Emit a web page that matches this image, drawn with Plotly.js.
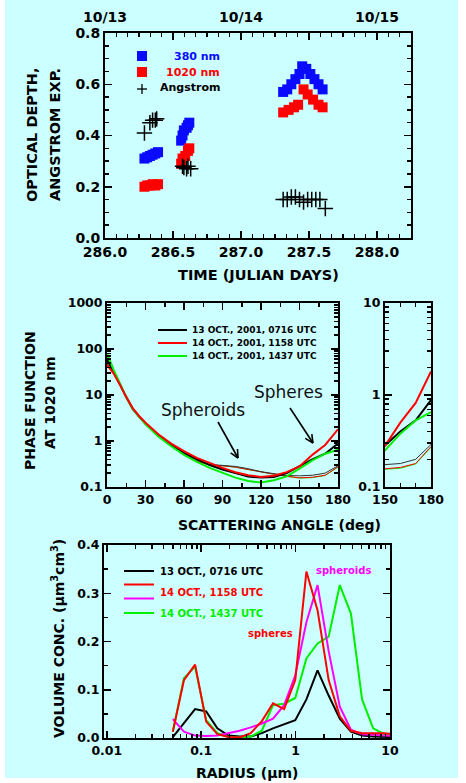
<!DOCTYPE html>
<html>
<head>
<meta charset="utf-8">
<script src="https://cdn.plot.ly/plotly-3.0.1.min.js"></script>
<style>
html,body{margin:0;padding:0;background:#ffffff;}
#bg{position:absolute;left:5px;top:0;width:453px;height:778px;background:#ccffff;}
#chart{position:absolute;left:0;top:0;width:466px;height:783px;}
</style>
</head>
<body>
<div id="bg"></div>
<div id="chart"></div>
<script>
// ---------- Panel 1: optical depth vs time ----------
const t380 = [286.29, 286.31, 286.33, 286.35, 286.37, 286.39,
              286.56, 286.57, 286.58, 286.60, 286.61, 286.62,
              287.31, 287.34, 287.37, 287.40, 287.43, 287.45, 287.48, 287.51, 287.54, 287.57, 287.60];
const od380 = [0.31, 0.315, 0.32, 0.325, 0.33, 0.335,
               0.38, 0.40, 0.42, 0.43, 0.44, 0.45,
               0.57, 0.58, 0.60, 0.62, 0.64, 0.67, 0.66, 0.64, 0.62, 0.60, 0.58];
const t1020 = [286.29, 286.31, 286.33, 286.35, 286.37, 286.39,
               286.56, 286.57, 286.59, 286.61, 286.62,
               287.31, 287.35, 287.39, 287.42, 287.46, 287.49, 287.53, 287.57, 287.60];
const od1020 = [0.20, 0.205, 0.205, 0.21, 0.205, 0.21,
                0.29, 0.31, 0.32, 0.34, 0.35,
                0.49, 0.50, 0.51, 0.52, 0.58, 0.56, 0.54, 0.52, 0.51];
const tAng = [286.29, 286.33, 286.35, 286.37, 286.38,
              286.57, 286.58, 286.60, 286.61, 286.63,
              287.31, 287.34, 287.37, 287.40, 287.43, 287.46, 287.49, 287.52, 287.55, 287.58, 287.62];
const angExp = [0.41, 0.45, 0.46, 0.46, 0.465,
                0.28, 0.275, 0.27, 0.28, 0.27,
                0.15, 0.15, 0.16, 0.16, 0.15, 0.14, 0.15, 0.15, 0.15, 0.15, 0.115];
const dateTicks = [286, 287, 288];
const dateLabels = ['10/13', '10/14', '10/15'];

// ---------- Panel 2: phase function at 1020 nm ----------
const angles = [0, 5, 10, 15, 20, 25, 30, 40, 50, 60, 70, 80, 90, 100, 110, 120, 130, 140, 150, 160, 170, 180];
const pfSphBlack = [60, 33, 17, 9, 5, 3.4, 2.4, 1.3, 0.82, 0.55, 0.4, 0.3, 0.24, 0.2, 0.17, 0.16, 0.165, 0.2, 0.28, 0.4, 0.53, 0.88];
const pfSphRed   = [45, 30, 17, 9, 5.2, 3.5, 2.5, 1.4, 0.88, 0.6, 0.43, 0.33, 0.26, 0.21, 0.18, 0.165, 0.175, 0.21, 0.28, 0.5, 0.82, 1.8];
const pfSphGreen = [80, 36, 18, 9, 5, 3.3, 2.3, 1.25, 0.77, 0.5, 0.35, 0.26, 0.2, 0.16, 0.135, 0.125, 0.14, 0.17, 0.25, 0.38, 0.53, 0.65];
const pfSpdBlack = [55, 32, 17, 9, 5, 3.4, 2.4, 1.3, 0.8, 0.53, 0.38, 0.31, 0.3, 0.28, 0.25, 0.215, 0.195, 0.178, 0.175, 0.18, 0.2, 0.29];
const pfSpdRed   = [48, 31, 17, 9, 5.1, 3.4, 2.4, 1.32, 0.82, 0.52, 0.37, 0.3, 0.29, 0.27, 0.24, 0.21, 0.19, 0.172, 0.158, 0.163, 0.18, 0.275];
const pfSpdGreen = [70, 34, 17.5, 9, 5, 3.3, 2.35, 1.28, 0.79, 0.51, 0.36, 0.3, 0.29, 0.27, 0.24, 0.21, 0.19, 0.17, 0.156, 0.16, 0.178, 0.27];
const pfLegend = ['13 OCT., 2001, 0716 UTC', '14 OCT., 2001, 1158 UTC', '14 OCT., 2001, 1437 UTC'];

// ---------- Panel 3: volume size distribution ----------
const radius = [0.05, 0.0656, 0.0861, 0.1129, 0.1482, 0.1944, 0.2551, 0.3347, 0.4391, 0.5761, 0.7558,
                0.9917, 1.3011, 1.7070, 2.2397, 2.9384, 3.8552, 5.0582, 6.6364, 8.7071, 11.4241, 15.0];
const vcBlack   = [0.002, 0.03, 0.06, 0.055, 0.02, 0.005, 0.003, 0.003, 0.01, 0.02, 0.028,
                   0.037, 0.08, 0.14, 0.088, 0.04, 0.013, 0.005, 0.003, 0.002, 0.002, 0.001];
const vcRed     = [0.013, 0.12, 0.152, 0.034, 0.008, 0.002, 0.001, 0.01, 0.035, 0.072, 0.06,
                   0.12, 0.345, 0.265, 0.12, 0.045, 0.015, 0.01, 0.01, 0.01, 0.008, 0.005];
const vcMagenta = [0.039, 0.013, 0.005, 0.004, 0.005, 0.01, 0.015, 0.022, 0.03, 0.04, 0.068,
                   0.13, 0.24, 0.317, 0.18, 0.065, 0.017, 0.008, 0.006, 0.005, 0.004, 0.003];
const vcGreen   = [0.013, 0.124, 0.148, 0.037, 0.01, 0.002, 0.001, 0.003, 0.015, 0.068, 0.071,
                   0.083, 0.165, 0.196, 0.21, 0.317, 0.258, 0.08, 0.02, 0.008, 0.006, 0.004];
const vcLegend = ['13 OCT., 0716 UTC', '14 OCT., 1158 UTC', '14 OCT., 1437 UTC'];

// ---------- helpers ----------
const W = 466, H = 783;
const px = v => v / W;
const py = v => 1 - v / H;
const FB = 'DejaVu Sans';
const BLUE = '#0a0aff', RED = '#ff0000', GREEN = '#00ee00', MAG = '#ff00ff';

function axis(extra, fs) {
  return Object.assign({
    showline: true, linecolor: 'black', linewidth: 2, mirror: 'ticks',
    ticks: 'inside', ticklen: 7, tickwidth: 1.5, tickcolor: 'black',
    showgrid: false, zeroline: false,
    tickfont: {family: FB, size: fs || 12.5, weight: 'bold', color: 'black'}
  }, extra);
}
function minor(extra) {
  return Object.assign({ticks: 'inside', ticklen: 4, tickwidth: 1.5, tickcolor: 'black', showgrid: false}, extra);
}

const traces = [];
// panel 1
traces.push({x: t380, y: od380, type: 'scatter', mode: 'markers', xaxis: 'x', yaxis: 'y',
  marker: {symbol: 'square', size: 10, color: BLUE}, showlegend: false});
traces.push({x: t1020, y: od1020, type: 'scatter', mode: 'markers', xaxis: 'x', yaxis: 'y',
  marker: {symbol: 'square', size: 10, color: RED}, showlegend: false});
traces.push({x: tAng, y: angExp, type: 'scatter', mode: 'markers', xaxis: 'x', yaxis: 'y',
  marker: {symbol: 'cross-thin', size: 11, color: 'black', line: {color: 'black', width: 1.5}}, showlegend: false});

// panel 2 (main + inset)
const pfSets = [
  [pfSpdGreen, GREEN, 1], [pfSpdRed, RED, 1], [pfSpdBlack, '#333333', 1],
  [pfSphBlack, 'black', 2], [pfSphGreen, GREEN, 2], [pfSphRed, RED, 2]
];
for (const [ax, ay] of [['x2', 'y2'], ['x3', 'y3']]) {
  for (const [vals, col, w] of pfSets) {
    traces.push({x: angles, y: vals, type: 'scatter', mode: 'lines', xaxis: ax, yaxis: ay,
      line: {color: col, width: w}, showlegend: false});
  }
}

// panel 3
const vcSets = [[vcBlack, 'black'], [vcGreen, GREEN], [vcMagenta, MAG], [vcRed, RED]];
for (const [vals, col] of vcSets) {
  traces.push({x: radius, y: vals, type: 'scatter', mode: 'lines', xaxis: 'x4', yaxis: 'y4',
    line: {color: col, width: 2}, showlegend: false});
}

const annotations = [];
const shapes = [];
function txt(text, x, y, opts) {
  annotations.push(Object.assign({
    text: text, x: px(x), y: py(y), xref: 'paper', yref: 'paper', showarrow: false,
    xanchor: 'center', yanchor: 'middle',
    font: {family: FB, size: 14.5, weight: 'bold', color: 'black'}
  }, opts || {}));
}
function pline(x0, y0, x1, y1, col, w) {
  shapes.push({type: 'line', xref: 'paper', yref: 'paper', x0: px(x0), y0: py(y0), x1: px(x1), y1: py(y1),
    line: {color: col, width: w}});
}
function arrow(xt, yt, xh, yh) {
  pline(xt, yt, xh, yh, 'black', 1.6);
  const dx = xt - xh, dy = yt - yh, L = Math.hypot(dx, dy);
  const ux = dx / L, uy = dy / L, hl = 9, a = 0.45;
  for (const s of [-1, 1]) {
    const c = Math.cos(s * a), sn = Math.sin(s * a);
    pline(xh, yh, xh + hl * (ux * c - uy * sn), yh + hl * (ux * sn + uy * c), 'black', 1.6);
  }
}
// top date labels (secondary axis labels)
dateTicks.forEach((d, i) => {
  annotations.push({text: dateLabels[i], x: d, xref: 'x', y: py(17), yref: 'paper', showarrow: false,
    xanchor: 'center', yanchor: 'middle', font: {family: FB, size: 14, weight: 'bold', color: 'black'}});
});
// axis titles
txt('TIME (JULIAN DAYS)', 258, 275);
txt('OPTICAL DEPTH,', 32, 135, {textangle: -90});
txt('ANGSTROM EXP.', 55, 135, {textangle: -90});
txt('SCATTERING ANGLE (deg)', 279, 525, {font: {family: FB, size: 14, weight: 'bold', color: 'black'}});
txt('PHASE FUNCTION', 30, 401, {textangle: -90, font: {family: FB, size: 14, weight: 'bold', color: 'black'}});
txt('AT 1020 nm', 50, 403, {textangle: -90, font: {family: FB, size: 14, weight: 'bold', color: 'black'}});
txt('RADIUS (μm)', 247, 773, {font: {family: FB, size: 14, weight: 'bold', color: 'black'}});
txt('VOLUME CONC. (μm<sup>3</sup>cm<sup>3</sup>)', 58, 639, {textangle: -90, font: {family: FB, size: 14, weight: 'bold', color: 'black'}});

// panel 1 legend
const lg1 = [['380 nm', BLUE, 56], ['1020 nm', RED, 72], ['Angstrom', 'black', 88]];
lg1.forEach(([t, c, y]) => txt(t, 222, y, {xanchor: 'right', font: {family: FB, size: 11, weight: 'bold', color: c}}));
shapes.push({type: 'rect', xref: 'paper', yref: 'paper', x0: px(137), x1: px(147), y0: py(61), y1: py(51), fillcolor: BLUE, line: {width: 0}});
shapes.push({type: 'rect', xref: 'paper', yref: 'paper', x0: px(137), x1: px(147), y0: py(77), y1: py(67), fillcolor: RED, line: {width: 0}});
pline(137, 89, 147, 89, 'black', 1.3);
pline(142, 84, 142, 94, 'black', 1.3);

// panel 2 legend
const lg2c = ['black', RED, GREEN];
[330, 343, 356].forEach((y, i) => {
  pline(158, y, 187, y, lg2c[i], 2);
  txt(pfLegend[i], 190, y, {xanchor: 'left', font: {family: FB, size: 9, weight: 'bold', color: 'black'}});
});
// spheroids / spheres labels and arrows
txt('Spheroids', 203, 410, {font: {family: FB, size: 17, color: '#111111'}});
txt('Spheres', 288, 392, {font: {family: FB, size: 17, color: '#111111'}});
arrow(218, 422, 238, 458);
arrow(290, 408, 313, 443);

// panel 3 legend
const lg3 = [[571, 'black'], [584.5, RED], [598.5, MAG], [613, GREEN]];
lg3.forEach(([y, c]) => pline(124, y, 154, y, c, 2));
txt(vcLegend[0], 158, 571, {xanchor: 'left', font: {family: FB, size: 10, weight: 'bold', color: 'black'}});
txt(vcLegend[1], 158, 592, {xanchor: 'left', font: {family: FB, size: 10, weight: 'bold', color: RED}});
txt(vcLegend[2], 158, 613, {xanchor: 'left', font: {family: FB, size: 10, weight: 'bold', color: GREEN}});
txt('spheroids', 343, 570, {font: {family: FB, size: 10, weight: 'bold', color: MAG}});
txt('spheres', 270, 633, {font: {family: FB, size: 10, weight: 'bold', color: RED}});

const layout = {
  width: W, height: H,
  margin: {l: 0, r: 0, t: 0, b: 0},
  paper_bgcolor: 'rgba(0,0,0,0)', plot_bgcolor: 'rgba(0,0,0,0)',
  showlegend: false,
  xaxis: axis({domain: [px(105), px(411)], range: [286, 288.25], anchor: 'y', tick0: 286, dtick: 0.5, tickformat: '.1f',
    minor: minor({dtick: 1 / 12, tick0: 286})}, 14),
  yaxis: axis({domain: [py(238), py(33)], range: [0, 0.8], anchor: 'x', dtick: 0.2, tickformat: '.1f',
    minor: minor({dtick: 0.05})}, 14),
  xaxis2: axis({domain: [px(107), px(338)], range: [0, 180], anchor: 'y2', tick0: 0, dtick: 30,
    minor: minor({dtick: 15, tick0: 0})}),
  yaxis2: axis({domain: [py(487), py(303)], type: 'log', range: [-1, 3], anchor: 'x2', tickmode: 'array',
    tickvals: [0.1, 1, 10, 100, 1000], ticktext: ['0.1', '1', '10', '100', '1000'],
    minor: minor({dtick: 'D1'})}),
  xaxis3: axis({domain: [px(385), px(431)], range: [150, 180], anchor: 'y3', tickmode: 'array', tickvals: [150, 180], ticktext: ['150', '180'],
    minor: minor({tickmode: 'array', tickvals: [160, 170]})}),
  yaxis3: axis({domain: [py(487), py(303)], type: 'log', range: [-1, 1], anchor: 'x3', tickmode: 'array',
    tickvals: [0.1, 1, 10], ticktext: ['0.1', '1', '10'], minor: minor({dtick: 'D1'})}),
  xaxis4: axis({domain: [px(104), px(390)], type: 'log', range: [-2.03, 1], anchor: 'y4', tickmode: 'array',
    tickvals: [0.01, 0.1, 1, 10], ticktext: ['0.01', '0.1', '1', '10'], minor: minor({dtick: 'D1'})}),
  yaxis4: axis({domain: [py(738), py(545)], range: [0, 0.4], anchor: 'x4', dtick: 0.1, tickformat: '.1f',
    minor: minor({dtick: 0.05})}),
  annotations: annotations,
  shapes: shapes
};

Plotly.newPlot('chart', traces, layout, {displayModeBar: false, staticPlot: true});
</script>
</body>
</html>
